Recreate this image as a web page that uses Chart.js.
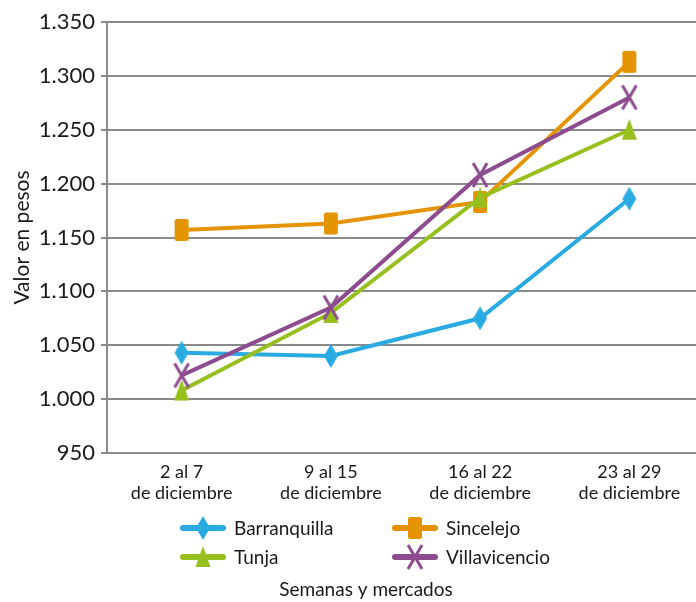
<!DOCTYPE html>
<html lang="es">
  <head>
    <meta charset="UTF-8" />
    <title>Valor en pesos</title>
    <script src="https://cdn.jsdelivr.net/npm/chart.js"></script>
    <style>
      html, body { margin: 0; padding: 0; overflow: hidden; background: #fff; }
      #wrap { width: 712px; height: 602px; }
    </style>
  </head>
  <body>
    <div id="wrap"><canvas id="myChart" width="712" height="602"></canvas></div>

    <script>
      const FONT = "Lato";
      const weeks = [
        ["2 al 7", "de diciembre"],
        ["9 al 15", "de diciembre"],
        ["16 al 22", "de diciembre"],
        ["23 al 29", "de diciembre"],
      ];
      const markets = ["Barranquilla", "Sincelejo", "Tunja", "Villavicencio"];
      const barranquilla = [1043, 1040, 1075, 1186];
      const sincelejo = [1157, 1163, 1183, 1313];
      const tunja = [1008, 1080, 1187, 1250];
      const villavicencio = [1022, 1085, 1208, 1280];
      const yTicks = [950, 1000, 1050, 1100, 1150, 1200, 1250, 1300, 1350];
      const yTitle = "Valor en pesos";
      const xTitle = "Semanas y mercados";

      const colors = ["#29abe2", "#e39400", "#97bf1e", "#8c4c8e"];
      const grey = "#8a8a8a";

      // small canvases used as point styles
      const marker = (kind, color) => {
        const c = document.createElement("canvas");
        c.width = 18;
        c.height = 28;
        const g = c.getContext("2d");
        g.fillStyle = color;
        g.strokeStyle = color;
        const cx = 9, cy = 14;
        if (kind === "diamond") {
          g.beginPath();
          g.moveTo(cx, cy - 12);
          g.lineTo(cx + 7, cy);
          g.lineTo(cx, cy + 12);
          g.lineTo(cx - 7, cy);
          g.closePath();
          g.fill();
        } else if (kind === "square") {
          g.beginPath();
          g.roundRect(cx - 7, cy - 11, 14, 22, 2);
          g.fill();
        } else if (kind === "triangle") {
          g.beginPath();
          g.moveTo(cx, cy - 11);
          g.lineTo(cx + 7.5, cy + 10);
          g.lineTo(cx - 7.5, cy + 10);
          g.closePath();
          g.fill();
        } else {
          g.lineWidth = 3;
          g.beginPath();
          g.moveTo(cx - 7, cy - 12);
          g.lineTo(cx + 7, cy + 12);
          g.moveTo(cx + 7, cy - 12);
          g.lineTo(cx - 7, cy + 12);
          g.stroke();
        }
        return c;
      };
      const kinds = ["diamond", "square", "triangle", "cross"];
      const icons = kinds.map((k, i) => marker(k, colors[i]));
      const series = [barranquilla, sincelejo, tunja, villavicencio];

      // legend in two columns plus the x title below it
      const legendPlugin = {
        id: "twoColLegend",
        afterDraw(chart) {
          const ctx = chart.ctx;
          const cols = [183, 395];
          const rows = [528, 557];
          ctx.save();
          ctx.font = "19px " + FONT;
          ctx.textBaseline = "middle";
          ctx.fillStyle = "#1a1a1a";
          chart.data.datasets.forEach((ds, i) => {
            const x = cols[i % 2];
            const y = rows[Math.floor(i / 2)];
            ctx.strokeStyle = ds.borderColor;
            ctx.lineWidth = 6;
            ctx.lineCap = "round";
            ctx.beginPath();
            ctx.moveTo(x, y);
            ctx.lineTo(x + 40, y);
            ctx.stroke();
            const img = ds.pointStyle;
            ctx.drawImage(img, x + 20 - img.width / 2, y - img.height / 2);
            ctx.fillStyle = "#1a1a1a";
            ctx.fillText(ds.label, x + 51, y + 1);
          });
          ctx.font = "19px " + FONT;
          ctx.textAlign = "center";
          ctx.fillText(xTitle, 366, 590);
          ctx.restore();
        },
      };

      new Chart(document.getElementById("myChart"), {
        type: "line",
        data: {
          labels: weeks,
          datasets: markets.map((m, i) => ({
            label: m,
            data: series[i],
            borderColor: colors[i],
            backgroundColor: colors[i],
            borderWidth: 4,
            pointStyle: icons[i],
            order: 3 - i,
            tension: 0,
          })),
        },
        options: {
          responsive: false,
          animation: false,
          layout: { padding: { top: 22, left: 0, right: 1, bottom: 0 } },
          plugins: { legend: { display: false }, tooltip: { enabled: false } },
          scales: {
            x: {
              offset: true,
              grid: { display: false, drawTicks: false },
              border: { display: true, color: grey, width: 2 },
              ticks: {
                color: "#1a1a1a",
                font: { family: FONT, size: 18, lineHeight: 1.15 },
                padding: 9,
                maxRotation: 0,
              },
              afterFit: (s) => { s.height = 149; },
            },
            y: {
              min: 950,
              max: 1350,
              afterBuildTicks: (s) => { s.ticks = yTicks.map((v) => ({ value: v })); },
              grid: { color: grey, lineWidth: 2, tickLength: 6 },
              border: { display: true, color: grey, width: 2 },
              ticks: {
                color: "#1a1a1a",
                font: { family: FONT, size: 22 },
                padding: 6,
                callback: (v) => v.toLocaleString("de-DE"),
              },
              title: {
                display: true,
                text: yTitle,
                color: "#1a1a1a",
                font: { family: FONT, size: 21 },
                padding: { top: 10 },
              },
              afterFit: (s) => { s.width = 107; },
            },
          },
        },
        plugins: [legendPlugin],
      });
    </script>
  </body>
</html>
